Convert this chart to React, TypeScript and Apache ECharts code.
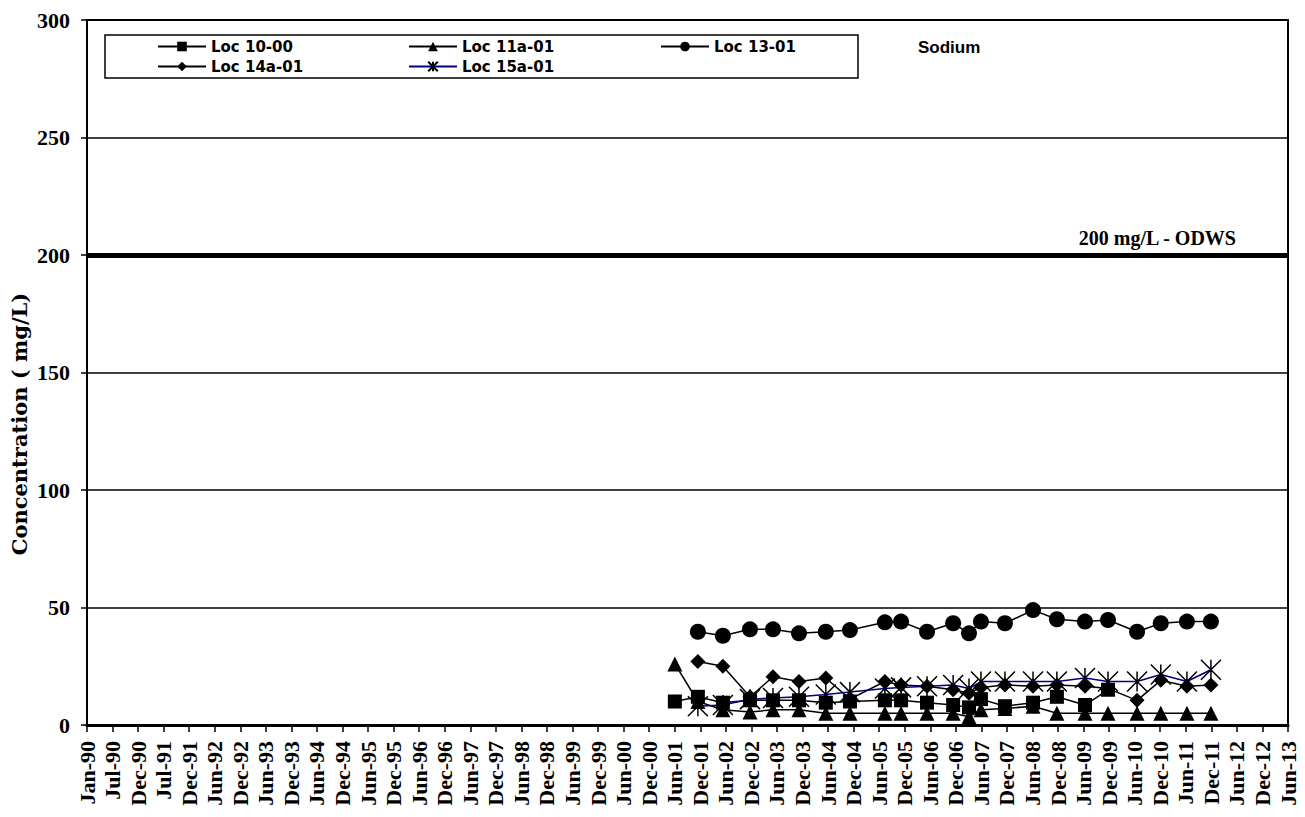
import React, { useEffect, useRef } from "react";
import * as echarts from "echarts";

// ---- axis ticks (Excel date axis, major unit 182 days from Jan-90) ----
const TICK_LABELS = [
  "Jan-90", "Jul-90", "Dec-90", "Jul-91", "Dec-91", "Jun-92", "Dec-92", "Jun-93",
  "Dec-93", "Jun-94", "Dec-94", "Jun-95", "Dec-95", "Jun-96", "Dec-96", "Jun-97",
  "Dec-97", "Jun-98", "Dec-98", "Jun-99", "Dec-99", "Jun-00", "Dec-00", "Jun-01",
  "Dec-01", "Jun-02", "Dec-02", "Jun-03", "Dec-03", "Jun-04", "Dec-04", "Jun-05",
  "Dec-05", "Jun-06", "Dec-06", "Jun-07", "Dec-07", "Jun-08", "Dec-08", "Jun-09",
  "Dec-09", "Jun-10", "Dec-10", "Jun-11", "Dec-11", "Jun-12", "Dec-12", "Jun-13",
];
const TICK_DAYS = 182;
const ORIGIN = "1990-01-01";
const Y_TICKS = [0, 50, 100, 150, 200, 250, 300];
const ODWS_LIMIT = 200;

// ---- sampling dates ----
const FIRST_DATE = "2001-06-19";
const SAMPLE_DATES = [
  "2001-11-30", "2002-05-27", "2002-12-06", "2003-05-19", "2003-11-20", "2004-05-29",
  "2004-11-17", "2005-07-24", "2005-11-16", "2006-05-20", "2006-11-22", "2007-03-15",
  "2007-06-08", "2007-11-26", "2008-06-13", "2008-11-30", "2009-06-18", "2009-11-29",
  "2010-06-24", "2010-12-10", "2011-06-14", "2011-12-02",
];

// ---- series values (mg/L) ----
const LOC_10_00_DATES = [FIRST_DATE, ...SAMPLE_DATES.slice(0, 18)];
const LOC_10_00 = [10, 12, 9.5, 10.5, 10.5, 10.5, 9.5, 10, 10.5, 10.5, 9.5, 8.5, 7.5, 11, 8, 9.5, 12, 8.5, 15];

const LOC_11A_01_DATES = [FIRST_DATE, ...SAMPLE_DATES];
const LOC_11A_01 = [26, 10, 6.5, 5.5, 6.5, 6.5, 5, 5, 5, 5, 5, 5, 3.5, 6.5, 7, 8, 5, 5, 5, 5, 5, 5, 5];

const LOC_13_01_DATES = SAMPLE_DATES;
const LOC_13_01 = [39.7, 38, 40.7, 40.7, 39, 39.7, 40.4, 43.7, 44, 39.7, 43.3, 39, 44, 43.3, 48.9, 45, 44, 44.7, 39.7, 43.3, 44, 44];

const LOC_14A_01_DATES = SAMPLE_DATES;
const LOC_14A_01 = [27, 25, 12, 20.5, 18.5, 20, 11, 18.5, 17, 16.5, 15, 13.5, 16, 17, 16.5, 17, 16.5, 15.5, 10.5, 19, 16.5, 17];

const LOC_15A_01_DATES = SAMPLE_DATES;
const LOC_15A_01 = [8, 8.5, 11, 11.5, 12, 13, 14, 15.5, 16, 16.5, 17, 15.5, 18.5, 18.5, 18.5, 18.5, 20, 18.5, 18.5, 21.5, 18.5, 23.5];

const SERIES_NAMES = ["Loc 10-00", "Loc 11a-01", "Loc 13-01", "Loc 14a-01", "Loc 15a-01"];

const dayOf = (d: string) => (Date.parse(d) - Date.parse(ORIGIN)) / 86400000;
const pairs = (dates: string[], vals: number[]) => dates.map((d, i) => [dayOf(d), vals[i]]);

const SERIF = "'Liberation Serif', 'Times New Roman', serif";
const WIDE_SERIF = "'DejaVu Serif', 'Liberation Serif', serif";
const SANS = "'Liberation Sans', Arial, sans-serif";
const WIDE_SANS = "'DejaVu Sans', 'Liberation Sans', sans-serif";
const ASTERISK = "path://M0 0 L20 20 M20 0 L0 20 M10 0 L10 20";

export default function App() {
  const ref = useRef<HTMLDivElement>(null);

  useEffect(() => {
    if (!ref.current) return;
    const chart = echarts.init(ref.current, undefined, { renderer: "svg" });

    const baseLine = (name: string, data: number[][], symbol: string, size: number) => ({
      name,
      type: "line",
      data,
      symbol,
      symbolSize: size,
      showAllSymbol: true,
      lineStyle: { color: "#000", width: 1.5 },
      itemStyle: { color: "#000" },
      emphasis: { disabled: true },
      z: 3,
    });

    const legendPos = [
      { left: 157, top: 39 },
      { left: 408, top: 39 },
      { left: 660, top: 39 },
      { left: 157, top: 59 },
      { left: 408, top: 59 },
    ];

    const option: any = {
      animation: false,
      backgroundColor: "#fff",
      grid: {
        left: 87,
        right: 17,
        top: 20,
        bottom: 92,
        show: true,
        borderColor: "#000",
        borderWidth: 2,
        backgroundColor: "transparent",
      },
      legend: SERIES_NAMES.map((n, i) => ({
        data: [n],
        left: legendPos[i].left,
        top: legendPos[i].top,
        padding: 0,
        itemWidth: 48,
        itemHeight: 12,
        itemGap: 4,
        selectedMode: false,
        textStyle: { fontFamily: WIDE_SANS, fontWeight: "bold", fontSize: 15, color: "#000", lineHeight: 14 },
      })),
      xAxis: {
        type: "value",
        min: 0,
        max: TICK_DAYS * (TICK_LABELS.length - 1),
        interval: TICK_DAYS,
        axisLine: { show: true, lineStyle: { color: "#000", width: 3 } },
        axisTick: { show: true, length: 7, lineStyle: { color: "#000", width: 1.5 } },
        splitLine: { show: false },
        axisLabel: {
          rotate: 90,
          margin: 16,
          fontFamily: SERIF,
          fontWeight: "bold",
          fontSize: 22,
          color: "#000",
          formatter: (v: number) => TICK_LABELS[Math.round(v / TICK_DAYS)] ?? "",
        },
      },
      yAxis: {
        type: "value",
        min: Y_TICKS[0],
        max: Y_TICKS[Y_TICKS.length - 1],
        interval: Y_TICKS[1] - Y_TICKS[0],
        axisLine: { show: true, lineStyle: { color: "#000", width: 2 } },
        axisTick: { show: true, length: 6, lineStyle: { color: "#000", width: 1.5 } },
        splitLine: { show: true, lineStyle: { color: "#000", width: 1.5 } },
        axisLabel: {
          margin: 17,
          fontFamily: SERIF,
          fontWeight: "bold",
          fontSize: 22,
          color: "#000",
        },
      },
      graphic: [
        {
          type: "rect",
          shape: { x: 105, y: 35, width: 753, height: 43 },
          style: { fill: "transparent", stroke: "#000", lineWidth: 1.5 },
          z: 1,
        },
        {
          type: "text",
          x: 19,
          y: 424,
          rotation: Math.PI / 2,
          style: {
            text: "Concentration ( mg/L)",
            fontFamily: WIDE_SERIF,
            fontWeight: "bold",
            fontSize: 21,
            fill: "#000",
            align: "center",
            textAlign: "center",
            verticalAlign: "middle",
            textVerticalAlign: "middle",
          },
          z: 5,
        },
        {
          type: "text",
          x: 918,
          y: 47,
          style: {
            text: "Sodium",
            fontFamily: SANS,
            fontWeight: "bold",
            fontSize: 17,
            fill: "#000",
            textVerticalAlign: "middle",
            verticalAlign: "middle",
          },
          z: 5,
        },
        {
          type: "text",
          x: 1236,
          y: 238,
          style: {
            text: "200 mg/L - ODWS",
            fontFamily: SERIF,
            fontWeight: "bold",
            fontSize: 20,
            fill: "#000",
            align: "right",
            textAlign: "right",
            verticalAlign: "middle",
            textVerticalAlign: "middle",
          },
          z: 5,
        },
      ],
      series: [
        {
          ...baseLine(SERIES_NAMES[0], pairs(LOC_10_00_DATES, LOC_10_00), "rect", 14),
          markLine: {
            silent: true,
            symbol: "none",
            label: { show: false },
            lineStyle: { color: "#000", width: 5, type: "solid" },
            emphasis: { disabled: true },
            data: [{ yAxis: ODWS_LIMIT }],
          },
        },
        baseLine(SERIES_NAMES[1], pairs(LOC_11A_01_DATES, LOC_11A_01), "triangle", 15),
        baseLine(SERIES_NAMES[2], pairs(LOC_13_01_DATES, LOC_13_01), "circle", 16),
        baseLine(SERIES_NAMES[3], pairs(LOC_14A_01_DATES, LOC_14A_01), "diamond", 15),
        {
          ...baseLine(SERIES_NAMES[4], pairs(LOC_15A_01_DATES, LOC_15A_01), ASTERISK, 20),
          lineStyle: { color: "#000080", width: 1.5 },
          itemStyle: { color: "transparent", borderColor: "#000", borderWidth: 1.5 },
        },
      ],
    };

    chart.setOption(option);
    return () => chart.dispose();
  }, []);

  return (
    <div
      ref={ref}
      style={{ position: "absolute", left: 0, top: 0, width: 1305, height: 817, background: "#fff" }}
    />
  );
}
